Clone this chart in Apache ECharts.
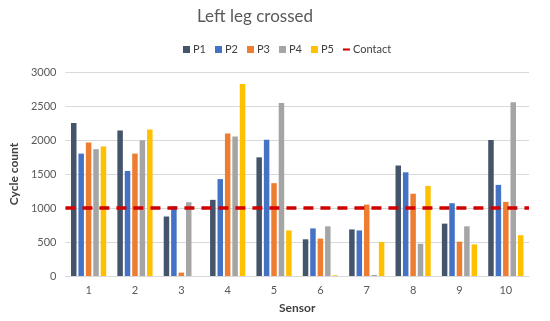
<!DOCTYPE html>
<html>
<head>
<meta charset="utf-8">
<script src="https://cdn.jsdelivr.net/npm/echarts@6/dist/echarts.min.js"></script>
<style>html,body{margin:0;padding:0;background:#fff;}#c{width:550px;height:321px;}</style>
</head>
<body>
<div id="c"></div>
<script>
const categories = ['1','2','3','4','5','6','7','8','9','10'];
const seriesNames = ['P1','P2','P3','P4','P5'];
const p1 = [2250, 2140, 875, 1120, 1745, 540, 685, 1625, 770, 2000];
const p2 = [1800, 1545, 1025, 1425, 2005, 700, 670, 1525, 1070, 1340];
const p3 = [1965, 1800, 50, 2095, 1365, 550, 1050, 1210, 505, 1090];
const p4 = [1865, 1995, 1085, 2050, 2545, 730, 15, 475, 730, 2555];
const p5 = [1905, 2155, 0, 2825, 670, 10, 500, 1325, 465, 600];
const contactValue = 1000;
const yTicks = { min: 0, max: 3000, interval: 500 };
const colors = ['#44546A', '#4472C4', '#ED7D31', '#A5A5A5', '#FFC000'];
const values = [p1, p2, p3, p4, p5];
const font = 'Lato, "Open Sans", sans-serif';

const chart = echarts.init(document.getElementById('c'));
const series = seriesNames.map((n, i) => ({
  name: n, type: 'bar', data: values[i], barWidth: 5.5, barGap: '35%',
  itemStyle: { color: colors[i] }
}));
series.push({
  name: 'Contact', type: 'line', data: [], itemStyle: { color: '#D00000' },
  lineStyle: { color: '#D00000', type: 'solid', width: 2 },
  markLine: {
    silent: true, symbol: 'none', label: { show: false },
    lineStyle: { color: '#D00000', type: [10, 7], width: 3.5 },
    data: [{ yAxis: contactValue }]
  }
});
chart.setOption({
  animation: false,
  textStyle: { fontFamily: font },
  title: {
    text: 'Left leg crossed', left: 250, top: 3, textAlign: 'center',
    textStyle: { fontFamily: font, fontSize: 17, fontWeight: 'normal', color: '#595959' }
  },
  legend: {
    left: 178, top: 39, itemWidth: 7, itemHeight: 7, itemGap: 9,
    textStyle: { fontFamily: font, fontSize: 11, color: '#404040', padding: [0, 0, 0, -2] },
    data: seriesNames.map(n => ({ name: n, icon: 'rect' })).concat([
      { name: 'Contact', icon: 'path://M0,0 L10,0 L10,3 L0,3 Z', itemStyle: { color: '#D00000' } }
    ])
  },
  grid: { left: 54, right: 21, top: 72, bottom: 45 },
  xAxis: {
    type: 'category', data: categories,
    name: 'Sensor', nameLocation: 'middle', nameGap: 26,
    nameTextStyle: { fontFamily: font, fontSize: 12, fontWeight: 'bold', color: '#404040' },
    axisTick: { show: false },
    axisLine: { lineStyle: { color: '#d9d9d9' } },
    axisLabel: { color: '#595959', fontSize: 11, margin: 9 }
  },
  yAxis: {
    type: 'value', min: yTicks.min, max: yTicks.max, interval: yTicks.interval,
    name: 'Cycle count', nameLocation: 'middle', nameGap: 37,
    nameTextStyle: { fontFamily: font, fontSize: 12, fontWeight: 'bold', color: '#404040' },
    axisLine: { show: false }, axisTick: { show: false },
    axisLabel: { color: '#595959', fontSize: 11, margin: 9, formatter: v => String(v) },
    splitLine: { lineStyle: { color: '#d9d9d9' } }
  },
  series: series
});
</script>
</body>
</html>
